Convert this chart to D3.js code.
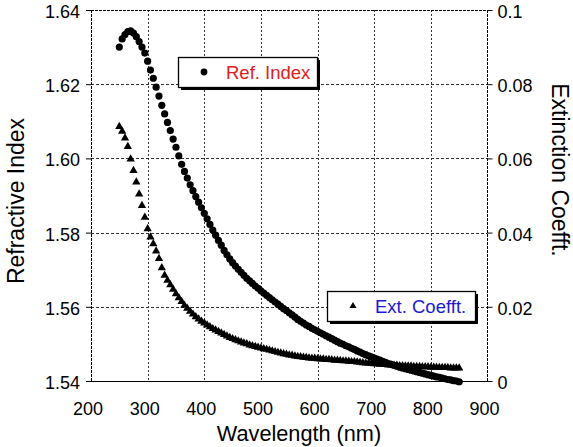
<!DOCTYPE html>
<html><head><meta charset="utf-8">
<script src="https://cdn.jsdelivr.net/npm/d3@7"></script>
<style>body{margin:0;background:#fff;} svg text{font-family:"Liberation Sans",Arial,sans-serif;}</style>
</head><body><svg id="chart" width="573" height="447"></svg>
<script>
const wavelengths = [250,255,260,265,270,275,280,285,290,295,300,305,310,315,320,325,330,335,340,345,350,355,360,365,370,375,380,385,390,395,400,405,410,415,420,425,430,435,440,445,450,455,460,465,470,475,480,485,490,495,500,505,510,515,520,525,530,535,540,545,550,555,560,565,570,575,580,585,590,595,600,605,610,615,620,625,630,635,640,645,650,655,660,665,670,675,680,685,690,695,700,705,710,715,720,725,730,735,740,745,750,755,760,765,770,775,780,785,790,795,800,805,810,815,820,825,830,835,840,845,850];
const refIndex = [1.6300,1.6322,1.6334,1.6342,1.6344,1.6338,1.6328,1.6315,1.6300,1.6284,1.6262,1.6238,1.6216,1.6192,1.6168,1.6143,1.6120,1.6097,1.6075,1.6052,1.6030,1.6007,1.5984,1.5965,1.5947,1.5929,1.5913,1.5897,1.5882,1.5867,1.5852,1.5837,1.5822,1.5807,1.5793,1.5779,1.5766,1.5752,1.5740,1.5729,1.5719,1.5710,1.5701,1.5693,1.5685,1.5677,1.5670,1.5663,1.5656,1.5650,1.5643,1.5637,1.5631,1.5625,1.5619,1.5613,1.5607,1.5601,1.5595,1.5590,1.5584,1.5578,1.5572,1.5566,1.5561,1.5556,1.5551,1.5547,1.5542,1.5538,1.5534,1.5530,1.5526,1.5522,1.5518,1.5514,1.5510,1.5506,1.5502,1.5499,1.5495,1.5492,1.5488,1.5485,1.5481,1.5478,1.5474,1.5471,1.5468,1.5465,1.5462,1.5459,1.5456,1.5453,1.5450,1.5447,1.5445,1.5442,1.5440,1.5437,1.5435,1.5433,1.5431,1.5429,1.5427,1.5425,1.5423,1.5421,1.5419,1.5417,1.5415,1.5413,1.5411,1.5410,1.5408,1.5406,1.5404,1.5403,1.5401,1.5400,1.5398];
const extCoeff = [0.0686,0.0673,0.0655,0.0632,0.0598,0.0567,0.0536,0.0504,0.0473,0.0441,0.0410,0.0388,0.0370,0.0350,0.0330,0.0305,0.0285,0.0271,0.0259,0.0247,0.0235,0.0224,0.0214,0.0204,0.0196,0.0188,0.0180,0.0173,0.0167,0.0161,0.0156,0.0151,0.0146,0.0141,0.0137,0.0133,0.0129,0.0125,0.0121,0.0117,0.0114,0.0111,0.0108,0.0105,0.0102,0.0100,0.0097,0.0095,0.0093,0.0091,0.0089,0.0087,0.0085,0.0083,0.0081,0.0079,0.0077,0.0075,0.0073,0.0072,0.0070,0.0069,0.0067,0.0066,0.0065,0.0064,0.0063,0.0062,0.0061,0.0061,0.0060,0.0059,0.0059,0.0058,0.0058,0.0057,0.0056,0.0056,0.0055,0.0054,0.0054,0.0053,0.0052,0.0052,0.0051,0.0050,0.0049,0.0048,0.0048,0.0047,0.0046,0.0046,0.0045,0.0045,0.0044,0.0043,0.0043,0.0042,0.0042,0.0041,0.0041,0.0040,0.0040,0.0040,0.0039,0.0039,0.0039,0.0038,0.0038,0.0038,0.0037,0.0037,0.0037,0.0036,0.0036,0.0036,0.0036,0.0035,0.0035,0.0035,0.0035];
const xTicks = [200,300,400,500,600,700,800,900];
const yLeftTicks = [1.54,1.56,1.58,1.60,1.62,1.64];
const yRightTicks = [0,0.02,0.04,0.06,0.08,0.1];
const yRightLabels = ["0","0.02","0.04","0.06","0.08","0.1"];
const seriesNames = ["Ref. Index","Ext. Coefft."];
const axisTitles = {x:"Wavelength (nm)", yLeft:"Refractive Index", yRight:"Extinction Coefft."};

const svg = d3.select("#chart");
const X0=91, X1=487.5, Y0=381, Y1=10;
const x = d3.scaleLinear().domain([200,900]).range([X0,X1]);
const yL = d3.scaleLinear().domain([1.54,1.64]).range([Y0,Y1]);
const yR = d3.scaleLinear().domain([0,0.1]).range([Y0,Y1]);

// grid
const grid = svg.append("g").attr("stroke","#333").attr("stroke-width",1).attr("fill","none");
grid.selectAll("line.v").data(xTicks.slice(1,-1)).join("line")
  .attr("x1",d=>Math.round(x(d))+0.5).attr("x2",d=>Math.round(x(d))+0.5)
  .attr("y1",Y1).attr("y2",Y0).attr("stroke-dasharray","2,2");
grid.selectAll("line.h").data(yLeftTicks.slice(1,-1)).join("line")
  .attr("x1",X0).attr("x2",X1)
  .attr("y1",d=>Math.round(yL(d))+0.5).attr("y2",d=>Math.round(yL(d))+0.5).attr("stroke-dasharray","3,2");

// frame
const fr = svg.append("g").attr("stroke","#000").attr("stroke-width",1);
fr.append("line").attr("x1",X0).attr("x2",X1).attr("y1",Y1+0.5).attr("y2",Y1+0.5).attr("stroke-dasharray","3,1");
fr.append("line").attr("x1",X0).attr("x2",X1+0.5).attr("y1",Y0+0.5).attr("y2",Y0+0.5);
fr.append("line").attr("x1",X0+0.5).attr("x2",X0+0.5).attr("y1",Y1).attr("y2",Y0).attr("stroke-dasharray","3,1");
fr.append("line").attr("x1",X1).attr("x2",X1).attr("y1",Y1).attr("y2",Y0).attr("stroke-dasharray","3,1");

const fs = 18;
// axes
const axL = svg.append("g").attr("transform",`translate(${X0},0)`)
  .call(d3.axisLeft(yL).tickValues(yLeftTicks).tickSize(5).tickPadding(6).tickFormat(d3.format(".2f")));
const axR = svg.append("g").attr("transform",`translate(${X1},0)`)
  .call(d3.axisRight(yR).tickValues(yRightTicks).tickSize(5).tickPadding(5).tickFormat((d,i)=>yRightLabels[i]));
const axB = svg.append("g").attr("transform",`translate(-3.5,${Y0})`)
  .call(d3.axisBottom(x).tickValues(xTicks).tickSize(0).tickPadding(21));
[axL,axR,axB].forEach(a=>{
  a.select(".domain").remove();
  a.selectAll("text").attr("font-size",fs).attr("fill","#000").attr("font-family","Liberation Sans, Arial, sans-serif");
  a.selectAll("line").attr("stroke","#000");
});
axL.selectAll("text").attr("dy","0.42em");
axR.selectAll("text").attr("dy","0.42em");

// data
const tri = d3.symbol().type(d3.symbolTriangle).size(30);
svg.append("g").selectAll("path").data(wavelengths).join("path")
  .attr("d",tri).attr("fill","#000")
  .attr("transform",(d,i)=>`translate(${x(d)},${yR(extCoeff[i])})`);
svg.append("g").selectAll("circle").data(wavelengths).join("circle")
  .attr("cx",d=>x(d)).attr("cy",(d,i)=>yL(refIndex[i])).attr("r",3.6).attr("fill","#000");

// legends
function legend(bx,by,bw,bh,kind,label,color){
  const g = svg.append("g");
  g.append("rect").attr("x",bx+3).attr("y",by+3).attr("width",bw).attr("height",bh).attr("fill","#000");
  g.append("rect").attr("x",bx+0.5).attr("y",by+0.5).attr("width",bw).attr("height",bh).attr("fill","#fff").attr("stroke","#000").attr("stroke-width",1.3);
  if(kind==="circle") g.append("circle").attr("cx",bx+26).attr("cy",by+bh/2).attr("r",3.4).attr("fill","#000");
  else g.append("path").attr("d",d3.symbol().type(d3.symbolTriangle).size(22)).attr("fill","#000").attr("transform",`translate(${bx+26},${by+bh/2})`);
  g.append("text").attr("x",bx+48).attr("y",by+bh/2+7).attr("font-size",18.5).attr("fill",color).text(label);
}
legend(178,57,139,30,"circle",seriesNames[0],"#e0201e");
legend(327,291,148,30,"tri",seriesNames[1],"#1a1ad0");

// titles
svg.append("text").attr("x",299).attr("y",441).attr("text-anchor","middle").attr("font-size",21.7).text(axisTitles.x);
svg.append("text").attr("transform","translate(24,201) rotate(-90)").attr("text-anchor","middle").attr("font-size",23).text(axisTitles.yLeft);
svg.append("text").attr("transform","translate(552,170) rotate(90)").attr("text-anchor","middle").attr("font-size",23).text(axisTitles.yRight);
</script></body></html>
